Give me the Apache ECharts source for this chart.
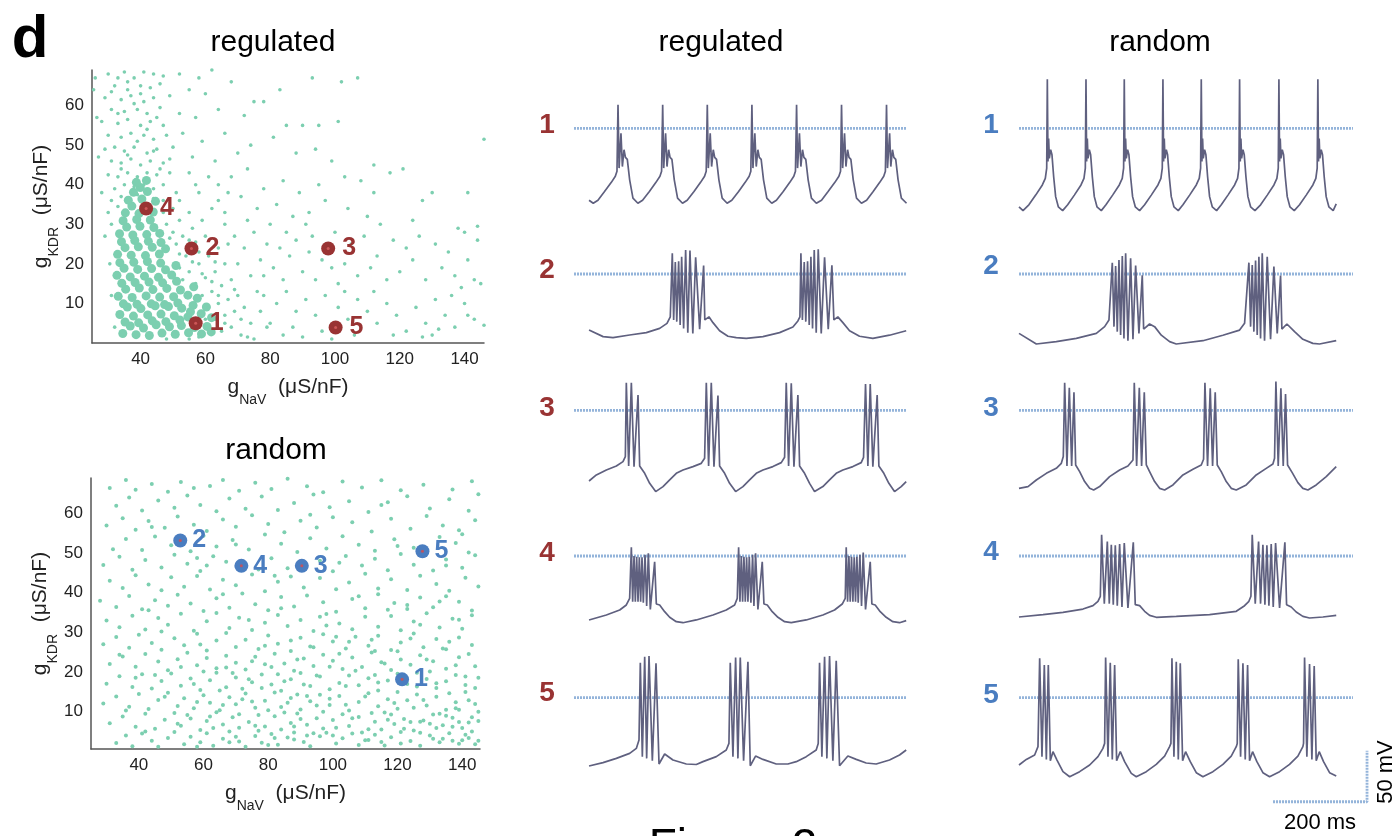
<!DOCTYPE html>
<html><head><meta charset="utf-8">
<script src="https://cdn.jsdelivr.net/npm/echarts@6/dist/echarts.min.js"></script>
<style>html,body{margin:0;padding:0;background:#fff}#c{width:1399px;height:836px}</style>
</head><body><div id="c"></div>
<script>
// ---------------- DATA ----------------
const xTicks = [40, 60, 80, 100, 120, 140];
const yTicks = [10, 20, 30, 40, 50, 60];
const markerNames = ['1', '2', '3', '4', '5'];
const panelTitles = ['regulated', 'random'];
const regMarkers = [[57, 5], [55.7, 23.9], [97.9, 23.9], [41.7, 34], [100.2, 3.9]];
const randMarkers = [[121.4, 18.1], [52.8, 53.2], [90.4, 46.8], [71.7, 46.8], [127.7, 50.5]];

// regulated: dense core of the cloud
const regCore = [
[34.5,2.4],[36.8,4.3],[38.6,2.1],[40.9,3.8],[42.7,1.9],[44.8,4.6],[46.6,2.5],[48.9,4.1],[50.7,2.2],[52.6,4.4],[54.8,2.6],[56.6,3.9],[58.8,2.3],[60.5,4.2],[35.2,5.3],[39.4,5.1],[43.6,5.6],[47.8,5.4],[52.1,5.8],[61.8,2.8],
[33.6,7.2],[35.9,9.1],[37.8,6.8],[40.1,8.7],[42.2,7.1],[44.5,9.4],[46.3,7.3],[48.6,9.2],[50.4,6.9],[52.7,8.8],[54.6,6.6],[56.2,9.5],[58.7,7.4],[60.3,9.1],[34.7,9.9],[38.9,9.8],[43.3,9.9],[47.4,9.7],[51.5,10.1],[55.4,7.9],[61.9,6.4],
[33.1,11.8],[35.4,13.6],[37.4,11.5],[39.6,13.9],[41.7,11.9],[43.8,13.5],[45.9,11.6],[48.1,13.8],[50.2,11.7],[52.3,13.4],[54.6,12.1],[56.4,14.2],[34.2,15.1],[38.3,15.3],[42.6,15.4],[46.8,15.2],[51.1,15.6],[57.5,11.3],
[32.7,17.1],[34.9,18.9],[36.8,16.7],[39.1,18.6],[41.2,16.9],[43.4,18.8],[45.5,16.6],[47.7,18.5],[49.6,17.2],[33.6,20.3],[37.9,20.4],[42.1,20.6],[46.2,20.2],[50.9,19.6],
[32.9,22.4],[35.2,24.1],[37.1,22.2],[39.3,24.3],[41.5,22.1],[43.6,24.2],[45.8,22.5],[47.7,23.8],[34.1,25.6],[38.2,25.9],[42.4,25.7],[46.3,25.4],
[33.5,27.6],[35.7,29.3],[37.6,27.3],[39.8,29.5],[41.9,27.4],[44.1,29.2],[45.9,27.7],[34.6,30.9],[38.8,31.2],[43,31.1],
[35.3,32.9],[37.3,34.6],[39.5,32.7],[41.6,34.5],[43.9,33.1],[36.2,36.1],[40.4,36.4],[44.6,35.8],
[37.8,38.1],[39.9,39.3],[42.1,38.3],[38.7,40.6],[41.8,41.1]];
// regulated: rest of the cloud
const regPoints = [
[30,68],[33,67],[35,68.5],[38,67],[41,68.5],[44,68],[47,67.5],[32,65],[36,64],[40,65],[43,64.5],[46,65.5],
[29,62],[34,61.5],[37,62.5],[41,61],[44,62],[49,62.5],[31,59],[35,58.5],[39,59],[42,58],[46,59.5],
[28,56],[33,55.5],[36,56.5],[40,55],[43,56],[47,55],[30,52.5],[34,52],[37,53],[41,52.5],[44,51.5],[48,52.5],
[29,49],[32,49.5],[35,48.5],[38,49.5],[42,48],[45,49],[50,49.5],[31,46],[34,45.5],[37,46.5],[40,45],[43,46],[47,45.5],
[30,42.5],[33,42],[36,43],[39,42],[42,43],[45,42.5],[49,43],[32,39],[35,40],[38,39.5],[41,40],[44,39],[47,40],
[31,36],[34,37],[44,36.5],[47,36],[51,38],[30,33],[47,33],[50,34],[31,30],[48,30],[52,31],
[26,67],[25.5,64],[26.5,57],[27,47],[28,38],[29,27],[30.5,20],[31,12],[32,4],
[34,44],[36,47.5],[39,51],[42,54],[45,57],[38,60.5],[33,58],[40,63],[36,66],[31,63.5],[46,44],[44,48.5],[49,46.5],[39,37.5],[33,34.5],
[50,28],[53,27],[56,29],[51,25],[54,22],[57,25.5],[60,27],[52,19],[55,18],[58,20],[61,22],[64,24],
[57,15],[60,16.5],[63,18],[66,20],[59,12],[62,13],[65,14.5],[68,16],[61,9],[64,10],[67,11],[70,12],
[63,6],[66,7],[69,8],[72,9],[62,2.5],[65,3],[68,4],[71,2],[74,5],[58,1.5],[55,1],[48,1],
[52,36],[55,33],[59,31],[62,34],[66,30],[69,27],[72,24],[70,20],[74,17],[76,13],[73,1.5],[77,8],[79,4],[67,38],[64,40],[58,38],
[49,26.5],[52,22.5],[55,26],[58,23],[53,16],[56,20.5],[59,17.5],[62,15.5],[64,12],[66,5],[69,13.5],[63,20.5],[67,25],[71,6],[60,6],
[52,68],[58,67],[62,69],[55,64],[60,63],[68,66],[75,61],[83,64],[93,67],[102,66],[107,67],[52,58],[57,57],[64,59],[72,57.5],
[78,61],[85,55],[90,55],[95,55],[101,56],[53,53],[59,51],[66,53],[74,50],[81,52],[88,48],[94,49],[99,46],[112,45],[121,44],
[146,51.5],[56,47],[63,46],[70,48],
[55,43],[61,42],[68,42],[73,44],[78,39],[84,41],[89,38],[95,40],[103,42],[108,41],[112,38],[117,43],[130,38],[141,38],
[57,40],[64,36],[71,37],[76,34],[82,35],[87,32],[92,33],[97,36],[104,34],[110,32],[114,30],[124,31],[127,36],[138,29],
[144,29.5],[66,33],[73,31],[80,30],[85,28],[91,30],
[75,28],[79,25],[83,24],[88,26],[93,27],[96,21],[100,28],[105,25],[109,27],[113,22],[118,26],[122,24],[126,27],[131,25],
[135,23],[140,28],[144,26],[77,21],[81,19],[86,22],[90,18],[94,16],[99,19],[103,20],[107,17],[111,19],[116,16],[120,18],
[124,21],[128,16],[133,19],[137,17],[141,21],[145,15],[143,16],[139,14],[84,16],[78,17],[92,23],[101,15],
[78,12],[82,10],[85,13],[88,8],[91,11],[94,7],[97,12],[101,9],[104,6],[107,11],[110,8],[113,5],[116,10],[119,7],[122,3],
[125,9],[128,5],[131,11],[134,7],[137,4],[140,10],[143,6],[146,4.5],[80,5],[84,2],[87,4],[90,1.5],[96,3],[99,1],[103,13],
[106,2],[112,13],[118,2],[127,1.5],[130,2],[132,3.5],[136,12],[141,7],[75,1]];

// random: whole cloud
const randPoints = [
[36,68.5],[39,66],[44,67.5],[49,65.5],[53,68],[57,66.5],[62,67],[66,68.5],[71,65.8],[76,67.8],[81,66.2],[86,68.8],[92,66.9],[97,65.4],[103,68.1],[109,66.6],[115,68.4],[121,65.9],[128,67.3],[137,66.1],[143,68.2],[31,66.5],
[33,62],[37,64.1],[41,60.8],[46,63.3],[51,61.5],[55,64.6],[59,62.2],[64,60.6],[68,63.8],[73,61.2],[78,64.3],[83,60.9],[88,62.7],[94,64.8],[99,61.6],[105,63.1],[111,60.4],[117,62.9],[123,64.4],[130,61.3],[136,63.6],[142,60.7],[145,64.9],
[30,57],[35,58.8],[39,55.9],[43,58.1],[48,56.4],[52,59.3],[57,57.2],[61,55.6],[66,58.5],[70,56.7],[75,59.6],[80,57.4],[85,55.3],[90,58.2],[95,56.5],[100,59.1],[106,57.8],[112,55.5],[118,58.7],[124,56.2],[129,59.4],[134,57],[139,55.8],[144,58.3],
[32,51],[36,53.6],[41,50.8],[45,54.2],[50,52],[56,50.5],[60,54.4],[64,51.7],[69,53.3],[74,50.9],[79,54.7],[84,52.4],[89,50.3],[93,53.8],[98,51.2],[103,54.3],[108,52.1],[113,50.6],[119,53.5],[125,51.4],[133,54.1],[138,52.6],[142,50.2],[146,53.9],
[29,47],[34,49.1],[38,45.8],[42,48.3],[47,46.4],[51,49.6],[55,47.3],[59,45.5],[63,49.2],[67,47.8],[77,45.9],[81,48.7],[86,46.2],[96,48.1],[100,45.4],[104,49.3],[109,46.9],[113,48.6],[117,45.7],[121,49.8],[125,47.1],[131,45.6],[135,48.4],[140,46.3],[144,49.5],[61,46.9],
[31,43],[35,41.2],[39,44.4],[43,42.1],[47,40.6],[50,43.9],[54,41.5],[58,44.2],[62,40.8],[66,43.3],[70,41.9],[75,44.6],[79,40.4],[83,42.8],[87,44.1],[91,41.3],[96,43.7],[101,40.9],[105,42.6],[110,44.8],[114,41.1],[118,43.4],[123,40.7],[127,44.3],[132,42.2],[136,40.5],[141,43.8],[145,41.6],
[28,38],[33,36.4],[37,39.2],[41,35.8],[45,38.1],[49,36.7],[52,39.5],[56,37.3],[60,35.4],[64,38.6],[68,36.2],[72,39.8],[76,37.1],[80,35.6],[84,38.9],[88,36.5],[92,39.3],[97,37.6],[101,35.2],[106,38.4],[110,36.1],[114,39.6],[119,37.4],[123,35.9],[127,38.8],[131,36.3],[135,39.1],[139,37.7],[143,35.5],[146,38.5],
[30,33],[34,31.3],[38,34.2],[42,30.7],[46,33.6],[49,31.9],[53,34.7],[57,30.4],[61,32.8],[64,34.9],[68,31.1],[71,33.7],[75,30.6],[79,32.4],[83,34.4],[86,31.6],[90,33.1],[94,30.3],[98,34.6],[102,32.2],[106,30.8],[110,33.9],[114,31.4],[118,34.1],[121,30.5],[125,32.7],[129,34.8],[133,31.2],[137,33.4],[140,30.9],[143,34.3],[146,32.1],
[29,27],[33,28.8],[37,26.1],[40,29.4],[44,27.3],[47,25.6],[51,28.5],[54,26.7],[58,29.6],[61,25.4],[64,27.9],[67,29.8],[70,26.3],[73,28.1],[77,25.8],[80,29.2],[83,27.1],[87,25.3],[90,28.6],[93,26.4],[97,29.5],[100,27.7],[104,25.9],[107,28.9],[111,26.6],[114,29.1],[118,25.5],[121,27.4],[125,29.7],[128,26.2],[132,28.3],[135,25.7],[139,28.7],[143,26.8],
[31,22],[35,23.9],[39,21.3],[42,24.5],[46,22.6],[49,20.4],[52,23.2],[55,24.8],[58,21.7],[61,23.5],[64,20.9],[67,24.1],[70,22.3],[73,20.6],[76,23.8],[79,21.9],[82,24.6],[85,22.1],[88,20.3],[91,23.4],[94,21.5],[97,24.3],[100,22.8],[103,20.7],[106,23.6],[109,21.2],[112,24.9],[115,22.4],[118,20.5],[121,23.1],[124,21.8],[127,24.2],[131,22.7],[135,20.8],[139,23.7],[144,21.4],
[30,17],[34,18.9],[38,16.2],[41,19.4],[44,15.8],[47,17.7],[50,19.6],[53,16.5],[56,18.3],[59,15.4],[62,17.9],[64,19.8],[67,16.1],[70,18.6],[72,15.7],[75,17.4],[78,19.3],[81,16.8],[84,15.2],[87,18.1],[90,19.7],[93,16.4],[96,18.8],[99,15.6],[102,17.2],[105,19.1],[108,16.6],[111,18.4],[114,15.3],[117,17.8],[120,19.5],[126,16.3],[129,18.2],[132,15.9],[135,17.6],[138,19.2],[141,16.7],[145,18.5],
[29,12],[33,13.8],[37,11.2],[40,14.4],[43,10.6],[46,12.9],[49,14.7],[52,11.4],[54,13.3],[57,10.8],[60,14.1],[62,12.2],[65,10.3],[68,13.6],[70,11.8],[73,14.5],[76,10.9],[79,12.7],[82,14.8],[84,11.1],[87,13.4],[90,10.5],[93,12.6],[96,14.2],[99,11.6],[102,13.9],[105,10.2],[108,12.4],[111,14.6],[114,11.3],[117,13.1],[120,10.7],[123,12.8],[126,14.3],[129,11.5],[132,13.7],[135,10.4],[138,12.3],[141,14.9],[144,11.9],
[31,7],[35,8.7],[39,6.1],[42,9.4],[45,5.6],[48,7.9],[51,9.6],[53,6.4],[56,8.2],[59,5.3],[61,7.6],[64,9.8],[66,6.7],[69,8.5],[71,5.9],[74,7.3],[77,9.1],[79,6.2],[82,8.8],[84,5.4],[87,7.1],[89,9.5],[92,6.6],[95,8.3],[97,5.7],[100,7.8],[103,9.3],[105,6.3],[108,8.6],[111,5.5],[113,7.4],[116,9.7],[119,6.8],[122,8.1],[125,5.2],[128,7.7],[131,9.2],[134,6.5],[137,8.4],[140,5.8],[142,7.2],[145,9.9],
[33,2],[36,3.9],[38,1.2],[41,4.4],[44,2.6],[46,1.1],[49,3.3],[51,4.8],[54,1.7],[56,3.6],[59,2.2],[61,4.5],[63,1.3],[66,3.1],[68,4.9],[71,2.4],[73,1.1],[76,3.8],[78,2.1],[81,4.3],[83,1.6],[86,3.4],[88,4.7],[91,2.3],[93,1.2],[96,3.7],[98,4.6],[101,1.9],[103,3.2],[106,4.4],[108,1.5],[111,2.8],[113,4.1],[116,1.4],[118,3.5],[121,4.8],[124,2.5],[127,1.3],[130,3.9],[133,2.2],[136,4.5],[139,1.8],[142,3.3],[145,2.6],
[132,5.8],[134,3.1],[137,2.6],[139,7.3],[141,4.1],[143,8.5],[138,10.8],[144,1.7],[135,8.9],[130,6.9],[127,4.6],[124,7.3],[121,1.9],[118,9.2],[115,5.4],[88,6.2],[85,9.7],[92,3.9],[95,11.5],[80,1.5],
[77,5.1],[70,3.6],[66,11.6],[62,8.7],[58,12.4],[89,14.3],[99,21.3],[105,27.6],[113,19.2],[120,14.9],[124,28.4],[130,20.1],[136,27.6],[142,24.5],[110,2.7],[101,5.9],[74,18.1],[83,19.4],[94,26.2],[67,21.1],
[34,24.3],[45,19.2],[48,13.7],[55,9.1],[57,16.9],[60,20.1],[63,5.8],[65,15.3],[68,2.2],[69,19.7],[71,9.3],[72,13.1],[75,22.7],[76,6.4],[78,15.9],[80,10.3],[81,21.2],[82,3.3],[85,17.6],[86,12.2],
[87,27.9],[88,2.9],[90,8.1],[91,16.8],[92,13.9],[94,4.5],[95,19.1],[97,9.9],[98,31.7],[99,13.2],[100,3.9],[102,24.6],[104,11.7],[104,16.4],[106,8.3],[107,20.3],[109,4.7],[110,13.8],[112,9.6],[112,28.1],
[114,17.3],[115,2.3],[116,22.1],[117,7.9],[119,12.1],[120,25.2],[122,5.6],[123,16.9],[125,10.9],[126,19.8],[127,7.4],[128,12.9],[129,23.1],[131,3.1],[132,17.1],[133,9.4],[134,25.9],[136,14.6],[137,6.1],[138,21.7],
[139,10.4],[140,2.7],[141,18.8],[142,12.8],[143,4.9],[144,15.9],[145,7.6],[146,20.6],[139,33.2],[133,37.8],[127,31.9],[117,35.7],[108,39.1],[96,33.9],[84,36.1],[74,33.1],[66,39.6],[59,26.9],[53,21.2],[47,30.2],
[43,35.6],[39,18.5],[36,10.2],[42,4.9],[52,6.9],[58,1.1],[75,12.5],[79,26.6],[89,23.1],[101,28.9],[113,25.3],[123,36.9],[135,46.9],[140,54.8],[120,51.8],[102,47.6],[82,44.3],[70,52.2],[58,48.8],[44,56.6],[93,59.7],[115,62.2]];

// voltage traces: [time ms, membrane potential mV] (0 mV = dotted line)
const regTrace1 = [[0,-70.5],[9,-73.5],
[19,-70.5],[33,-62],[47.5,-53],[56,-47],[59.5,-42],[61.7,23],[64,-39],[68,-5],[71,-37.5],[74.5,-21],[77.5,-28.5],[81.5,-30.5],[86.5,-50.5],[93.5,-68.5],[104,-73.5],
[114,-70.5],[128.5,-62],[142.5,-53],[151,-47],[154.5,-42],[156.8,23],[159,-39],[163,-5],[166,-37.5],[169.5,-21],[172.5,-28.5],[176.5,-30.5],[181.5,-50.5],[188.5,-68.5],[199,-73.5],
[209,-70.5],[223.5,-62],[237.5,-53],[246,-47],[249.5,-42],[251.8,23],[254,-39],[258,-5],[261,-37.5],[264.5,-21],[267.5,-28.5],[271.5,-30.5],[276.5,-50.5],[283.5,-68.5],[294,-73.5],
[304,-70.5],[318.5,-62],[332.5,-53],[341,-47],[344.5,-42],[346.8,23],[349,-39],[353,-5],[356,-37.5],[359.5,-21],[362.5,-28.5],[366.5,-30.5],[371.5,-50.5],[378.5,-68.5],[389,-73.5],
[399,-70.5],[413.5,-62],[427.5,-53],[436,-47],[439.5,-42],[441.9,23],[444,-39],[448,-5],[451,-37.5],[454.5,-21],[457.5,-28.5],[461.5,-30.5],[466.5,-50.5],[473.5,-68.5],[484,-73.5],
[495,-70.5],[509,-62],[523.5,-53],[532,-47],[535.5,-42],[537.6,23],[540,-39],[544,-5],[547,-37.5],[550.5,-21],[553.5,-28.5],[557.5,-30.5],[562.5,-50.5],[569.5,-68.5],[580,-73.5],
[591,-70.5],[605,-62],[619,-53],[627.5,-47],[631,-42],[633.4,23],[635.5,-39],[640,-5],[642.5,-37.5],[646,-21],[649,-28.5],[653,-30.5],[658,-50.5],[665,-68.5],[676,-73.5]];
const regTrace2 = [[0,-55],[30,-61.4],[51,-62.4],[86.5,-59.8],[122,-57.5],[150.4,-53.3],[166,-48.4],[173,-42],
[177.3,20.3],[180.2,-45],[183.7,11.8],[186.8,-46.7],[190.8,12.4],[194,-50],[197.2,17],[201.4,-53.3],[205.7,23.5],[210.3,-57.5],[214.9,22.9],[221,-58.2],[227,16.3],[235.5,-54.2],[244,8.2],
[246.5,-45],[255.3,-42],[263.9,-47.7],[278,-55.6],[295.8,-61],[313.5,-62.4],[334.8,-63.1],[370.3,-61.4],[405.7,-57.5],[434.1,-52],[444.7,-46],[449,-42],
[451.1,20.3],[454.3,-45],[458.2,11.8],[461.5,-46.7],[465.3,12.4],[468.8,-50],[472.4,17],[475.9,-53.3],[479.5,23.5],[483.7,-57.5],[488,24.2],[494.4,-58.2],[501.5,16.3],[509.3,-54.2],[517.1,8.5],
[521.3,-45],[529.8,-42],[540.5,-47.7],[554.7,-55.6],[575.9,-61],[604.3,-63.1],[639.8,-60],[675.3,-55.6]];
const regTrace3 = [[0,-69.3],[15.6,-63.4],[36.9,-58.5],[58.2,-54.6],[72.3,-50.3],[77.3,-45.4],[79.4,27.1],[84.4,-54.6],[90.1,27.1],[95.8,-55.2],[104.3,15],[107.8,-54.6],
[118.5,-61.8],[129.1,-71.6],[141.9,-79.7],[157.5,-74.8],[171.7,-68.3],[185.8,-61.8],[200,-58.5],[221.3,-55.2],[239,-52],[246.1,-47.1],[249.7,27.1],[254.6,-54.6],[260.3,27.1],[266,-55.2],[274.5,14.4],[278,-54.6],
[288.7,-61.8],[299.3,-71.6],[312.1,-79.7],[327.7,-74.8],[341.9,-68.3],[356.1,-61.8],[370.3,-58.5],[391.5,-55.2],[409.3,-51.3],[416.4,-46.1],[419.9,27.1],[424.9,-54.6],[430.6,26.5],[436.3,-55.2],[444.7,15],[448.3,-54.6],
[458.9,-61.8],[469.6,-71.6],[480.2,-79.7],[497.9,-74.8],[512.1,-68.3],[526.3,-61.8],[540.5,-58.5],[561.8,-55.2],[579.5,-51.3],[584.5,-46.1],[588.7,25.8],[593.7,-54.6],[598.7,25.8],[604.3,-55.2],[613.5,15],[617.1,-54.6],
[627.7,-61.8],[638.4,-71.6],[650.4,-79.7],[664.6,-74.8],[675.3,-69.9]];
const regTrace4 = [[0,-62.7],[36.9,-57.8],[65.3,-52.9],[79.4,-48],[86.5,-41.5],
[90.1,8.5],[92.9,-44.8],[95.8,0],[98.6,-44.8],[101.4,-0.7],[104.3,-44.8],[107.1,-1.3],[109.9,-44.8],[112.8,-1.3],[115.6,-45.8],[119.2,1.3],[122.7,-49],[126.3,2.6],[130.5,-52.3],[139.7,-5.6],
[143.3,-47.1],[150.4,-48],[161,-54.6],[171.7,-60.1],[185.8,-64.4],[200,-65.4],[228.4,-62.7],[263.9,-57.8],[292.2,-52.9],[310,-48],[315.6,-41.5],
[318.5,8.5],[321.3,-44.8],[324.2,0],[327,-44.8],[329.8,-0.7],[332.7,-44.8],[335.5,-1.3],[338.3,-44.8],[341.2,-0.7],[344.7,-45.8],[348.3,1.3],[351.1,-49],[354.6,2.6],[359.6,-52.3],[368.8,-5.6],
[372.4,-47.1],[379.5,-48],[390.1,-54.6],[402.2,-60.1],[416.4,-64.4],[430.5,-65.4],[462.5,-62.7],[497.9,-57.8],[522.7,-52.9],[539.1,-47.1],[545.5,-41.5],
[547.6,8.5],[550.5,-44.8],[553.3,0],[556.1,-44.8],[558.9,-0.7],[561.8,-44.8],[564.6,-1.3],[567.4,-44.8],[570.3,-0.7],[573.1,-45.8],[576.7,1.3],[580.2,-49],[583.8,3.3],[588.7,-52.3],[598.7,-5.6],
[602.2,-47.1],[609.3,-48],[620,-54.6],[632.7,-60.1],[646.9,-64.4],[661.1,-65.4],[675.3,-63.4]];
const regTrace5 = [[0,-67],[29.8,-63.7],[58.2,-59.5],[86.5,-54.6],[100.7,-49.7],[106.4,-41.5],
[109.2,34.3],[113.5,-57.8],[118.5,40.2],[122.7,-59.5],[127.7,40.8],[134.8,-61.8],[142.6,33.7],[149,-65],[161,-55.2],[178.7,-61.1],[207.1,-65],[228.4,-65.5],[242.6,-62.7],[271,-57.8],[292.2,-51.3],[297.9,-44.8],
[300.7,34.3],[306.4,-57.8],[312.1,39.5],[317,-59.5],[322,39.5],[329.1,-61.8],[338.3,35.3],[343.3,-66.7],[354.6,-57.2],[370.3,-60.5],[398.6,-65],[423.4,-65],[441.2,-62.7],[462.5,-57.8],[483.7,-51.3],[488,-44.8],
[490.8,34.3],[495.8,-57.8],[501.5,40.2],[506.4,-59.5],[512.1,40.8],[519.2,-61.8],[526.3,36.3],[533.4,-66.7],[551.1,-57.2],[568.9,-60.5],[590.1,-64],[611.4,-65],[639.8,-61.1],[661.1,-56.2],[675.3,-51.3]];

const randTrace1 = [[0,-77],[8.5,-80.7],
[21,-75],[35.5,-65.5],[49.7,-55.5],[56,-49],[59,-39],[60.3,48],[61.7,-32.5],[63.1,-10],[64.6,-29.5],[67.4,-21],[70.2,-26],[73.8,-47.5],[78,-67],[83.7,-77],[92.9,-80.7],
[103.6,-75],[117.8,-65.5],[132,-55.5],[138.3,-49],[141.2,-39],[142.6,48],[144,-32.5],[145.4,-10],[146.9,-29.5],[149.7,-21],[152.5,-26],[156.1,-47.5],[160.3,-67],[166,-77],[175.2,-80.7],
[185.1,-75],[199.3,-65.5],[213.5,-55.5],[219.8,-49],[222.7,-39],[224.1,48],[225.5,-32.5],[226.9,-10],[228.4,-29.5],[231.2,-21],[234,-26],[237.6,-47.5],[241.8,-67],[247.5,-77],[256.7,-80.7],
[267.4,-75],[281.6,-65.5],[295.8,-55.5],[302.1,-49],[305,-39],[306.4,48],[307.8,-32.5],[309.2,-10],[310.7,-29.5],[313.5,-21],[316.3,-26],[319.9,-47.5],[324.1,-67],[329.8,-77],[339,-80.7],
[349,-75],[363.2,-65.5],[377.4,-55.5],[383.7,-49],[386.6,-39],[388,48],[389.4,-32.5],[390.8,-10],[392.3,-29.5],[395.1,-21],[397.9,-26],[401.5,-47.5],[405.7,-67],[411.4,-77],[420.6,-80.7],
[430.6,-75],[444.8,-65.5],[459,-55.5],[465.3,-49],[468.2,-39],[469.6,48],[471,-32.5],[472.4,-10],[473.9,-29.5],[476.7,-21],[479.5,-26],[483.1,-47.5],[487.3,-67],[493,-77],[502.2,-80.7],
[514.3,-75],[528.5,-65.5],[542.7,-55.5],[549,-49],[551.9,-39],[553.3,48],[554.7,-32.5],[556.1,-10],[557.6,-29.5],[560.4,-21],[563.2,-26],[566.8,-47.5],[571,-67],[576.7,-77],[585.9,-80.7],
[597.2,-75],[611.4,-65.5],[625.6,-55.5],[631.9,-49],[634.8,-39],[636.2,48],[637.6,-32.5],[639,-10],[640.5,-29.5],[643.3,-21],[646.1,-26],[649.7,-47.5],[653.9,-67],[659.6,-77],[668.8,-80.7],[675.3,-74]];
const randTrace2 = [[0,-58.2],[36.9,-68.6],[79.4,-66.3],[122,-63.1],[164.6,-58.2],[182.3,-51.6],[191.5,-45.1],
[198.6,11.1],[202.2,-51.6],[205.7,7.8],[209.2,-56.5],[212.8,13.7],[216.3,-59.8],[219.9,17.6],[223.4,-63.1],[227,20.3],[231.9,-65.4],[237.6,15.4],[242.6,-64],[248.3,8.2],[255.3,-58.2],[262.4,-1.3],
[265.3,-54],[278,-49],[288.7,-51.6],[302.9,-60],[320.6,-66.3],[334.8,-68.6],[391.5,-65.4],[434.1,-60],[469.6,-55],[480.2,-48.4],
[489.4,11.1],[493,-51.6],[496.5,8.8],[500,-56.5],[503.6,13.1],[507.1,-59.8],[510.7,17],[514.2,-63.1],[517.8,20.3],[522.7,-65.4],[528.4,17],[535.5,-64],[542.6,7.2],[549.7,-58.2],[556.8,-1.6],
[559.6,-54],[570.3,-49],[586.6,-56.5],[604.3,-64],[625.6,-68],[639.8,-68.6],[675.3,-65.4]];
const randTrace3 = [[0,-76.5],[19.2,-74.8],[36.9,-68.3],[58.2,-61.8],[79.4,-56.9],[90.1,-52],[94.3,-45.4],[97.2,27.1],[102.1,-54.6],[107.1,22.2],[112.1,-54.6],[117,17.6],[120.6,-53.6],
[129.1,-60.1],[139.7,-69.9],[150.4,-76.5],[158.9,-78.1],[171.7,-74.8],[192.9,-65],[214.2,-58.5],[231.9,-54.6],[242.6,-48.7],[245.4,27.1],[250.4,-54.6],[256.1,22.2],[261,-54.6],[266.7,17.6],[271,-53.6],
[278,-60.1],[288.7,-69.9],[299.3,-76.5],[310,-78.1],[327.7,-73.2],[349,-63.4],[370.3,-57.8],[388,-53.6],[392.9,-48],[395.8,27.1],[401.4,-54.6],[407.1,21.6],[412.1,-54.6],[417.7,17.6],[422,-53.6],
[430.5,-60.1],[441.2,-69.9],[451.8,-76.5],[462.5,-78.1],[483.7,-73.2],[505,-63.4],[526.3,-56.9],[540.5,-52.6],[544,-47.1],[546.9,28.1],[551.8,-54.6],[557.5,21.6],[562.5,-54.6],[567.4,16],[571.7,-53.6],
[581.6,-61.1],[593.7,-70.9],[604.3,-76.5],[615,-78.1],[632.7,-73.2],[654,-65],[675.3,-55.2]];
const randTrace4 = [[0,-59.8],[51.1,-57.5],[93.6,-55.2],[136.2,-52],[157.5,-48.7],[168.1,-44.4],[173.1,-39.5],
[175.9,20.9],[181.6,-46.7],[188,14.1],[192.2,-46.7],[196.5,11.1],[200.7,-47.7],[205,10.5],[209.2,-48.7],[214.2,11.8],[219.2,-50],[224.1,12.7],[231.9,-51],[243.3,13.4],
[247.5,-47.7],[256.8,-48.7],[267.4,-54.2],[278,-58.2],[292.2,-60.1],[334.8,-59.2],[405.7,-57.5],[462.5,-54.2],[480.2,-48.7],[489.4,-44.4],[493.7,-39.5],
[496.5,20.9],[502.9,-46.7],[510,14.1],[514.2,-46.7],[519.2,11.1],[523.5,-47.7],[527.7,10.5],[532,-48.7],[536.9,11.8],[541.2,-50],[546.2,12.7],[554.7,-51],[566,13.4],
[569.6,-47.7],[579.5,-50],[590.1,-54.9],[604.3,-59.2],[618.5,-60.8],[646.9,-59.8],[675.3,-58.2]];
const randTrace5 = [[0,-66],[15.6,-60.5],[33.3,-56.2],[40.4,-48],[44,38.6],[48.9,-57.8],[53.9,32],[58.2,-60.5],[62.4,32],[66.7,-61.8],[72.3,-52.9],[80.9,-61.1],[93.6,-72.5],[107.8,-77.5],[129.1,-72.5],[150.4,-66],[168.1,-57.8],[178.7,-49.7],[182.3,-44.8],
[184.4,39.5],[189.4,-57.8],[194.3,34.3],[198.6,-60.5],[203.6,32],[207.8,-61.8],[215.6,-52.9],[224.8,-62.7],[239,-74.2],[249.7,-77.5],[271,-72.5],[292.2,-65.4],[310,-57.2],[320.6,-48],[323.4,-44.8],
[325.6,38.6],[329.8,-57.8],[334.8,35.3],[339.1,-60.5],[343.3,33.7],[348.3,-61.8],[354.6,-52.9],[364.6,-62.7],[377.4,-73.5],[391.5,-77.5],[412.8,-72.5],[434.1,-65.4],[451.8,-57.2],[462.5,-48],[464.6,-44.8],
[466.7,37.6],[471.7,-57.8],[476.7,33.7],[481.6,-60.5],[486.6,32],[490.8,-61.8],[497.2,-52.9],[506.4,-62.7],[519.2,-73.5],[533.4,-77.5],[554.7,-72.5],[575.9,-65.4],[593.7,-57.2],[604.3,-48],[605.7,-44.8],
[607.9,39.5],[612.8,-57.8],[618.5,33],[623.5,-60.5],[628.4,31],[632.7,-61.8],[639.1,-52.9],[648.3,-62.7],[661.1,-73.5],[675.3,-76.8]];

const regTraces = [regTrace1, regTrace2, regTrace3, regTrace4, regTrace5];
const randTraces = [randTrace1, randTrace2, randTrace3, randTrace4, randTrace5];
const thresholdMv = 0;
const scaleBarMs = 200;
const scaleBarMv = 50;

// ---------------- CHART ----------------
const FONT = '"Liberation Sans", Arial, sans-serif';
const TEAL = '#7ccfb0';
const RED = '#993333';
const BLUE = '#4a7dc0';
const TRACE = '#5f607f';
const DOT = '#88acd6';

const grids = [], xAxes = [], yAxes = [], series = [];
const richName = {
  g: { fontSize: 21, fontFamily: FONT, color: '#222', lineHeight: 28, verticalAlign: 'middle' },
  s: { fontSize: 14, fontFamily: FONT, color: '#222', lineHeight: 28, verticalAlign: 'bottom', padding: [0, 0, -6, 0] },
  u: { fontSize: 21, fontFamily: FONT, color: '#222', lineHeight: 28, verticalAlign: 'middle' }
};

function scatterPanel(left, top, width, height, xMin, xMax, yMin, yMax) {
  const gi = grids.length;
  grids.push({ left, top, width, height });
  xAxes.push({
    type: 'value', gridIndex: gi, min: xMin, max: xMax,
    splitLine: { show: false }, axisTick: { show: false },
    axisLine: { show: true, onZero: false, lineStyle: { color: '#555', width: 1.5 } },
    axisLabel: { customValues: xTicks, color: '#222', fontSize: 17, fontFamily: FONT, margin: 8 },
    name: '{g|g}{s|NaV}{u|  (μS/nF)}', nameLocation: 'middle', nameGap: 30,
    nameTextStyle: { fontFamily: FONT, color: '#222', rich: richName }
  });
  yAxes.push({
    type: 'value', gridIndex: gi, min: yMin, max: yMax,
    splitLine: { show: false }, axisTick: { show: false },
    axisLine: { show: true, onZero: false, lineStyle: { color: '#555', width: 1.5 } },
    axisLabel: { customValues: yTicks, color: '#222', fontSize: 17, fontFamily: FONT, margin: 8 },
    name: '{g|g}{s|KDR}{u|  (μS/nF)}', nameLocation: 'middle', nameGap: 31, nameRotate: 90,
    nameTextStyle: { fontFamily: FONT, color: '#222', rich: richName }
  });
  return gi;
}

const g0 = scatterPanel(92, 70, 392, 273, 25, 146, 0, 69);
const g1 = scatterPanel(91, 478, 389, 271, 25.2, 145.5, 0.5, 69);

function addScatter(gi, data, size) {
  series.push({ type: 'scatter', xAxisIndex: gi, yAxisIndex: gi, data, symbolSize: size,
    itemStyle: { color: TEAL, opacity: 1 }, silent: true, z: 2 });
}
addScatter(g0, regCore, 9);
addScatter(g0, regPoints, 3.6);
addScatter(g1, randPoints, 4);

function addMarkers(gi, data, color, centre, dist) {
  series.push({ type: 'scatter', xAxisIndex: gi, yAxisIndex: gi, data, symbolSize: 14,
    itemStyle: { color, opacity: 1 }, z: 5,
    label: { show: true, position: 'right', distance: dist, formatter: p => markerNames[p.dataIndex],
      color, fontSize: 25, fontWeight: 'bold', fontFamily: FONT } });
  series.push({ type: 'scatter', xAxisIndex: gi, yAxisIndex: gi, data, symbolSize: 3,
    itemStyle: { color: centre }, z: 6 });
}
addMarkers(g0, regMarkers, RED, '#d86060', 7);
addMarkers(g1, randMarkers, BLUE, '#d94a4a', 5);

// trace panels
const dottedRowsY = [128.3, 274, 410.3, 556, 697.7];
const PX_PER_MV = 1.02;
const PX_PER_MS = 0.47;
const VMIN = -90, VMAX = 50;
const columns = [
  { left: 574, width: 333, tMin: -32, tMax: 677, traces: regTraces },
  { left: 1019, width: 334, tMin: 0, tMax: 711, traces: randTraces }
];
columns.forEach(col => {
  col.traces.forEach((tr, i) => {
    const gi = grids.length;
    grids.push({ left: col.left, width: col.width, top: dottedRowsY[i] - VMAX * PX_PER_MV, height: (VMAX - VMIN) * PX_PER_MV });
    xAxes.push({ type: 'value', gridIndex: gi, min: col.tMin, max: col.tMax, show: false });
    yAxes.push({ type: 'value', gridIndex: gi, min: VMIN, max: VMAX, show: false });
    series.push({ type: 'line', xAxisIndex: gi, yAxisIndex: gi, showSymbol: false, silent: true,
      data: [[col.tMin, thresholdMv], [col.tMax, thresholdMv]],
      lineStyle: { color: DOT, width: 2.8, type: [2, 1], opacity: 0.9 }, z: 1 });
    series.push({ type: 'line', xAxisIndex: gi, yAxisIndex: gi, showSymbol: false, silent: true,
      data: tr, lineStyle: { color: TRACE, width: 1.7 }, z: 3 });
  });
});
// scale bar (200 ms, 50 mV): own grid sharing the scale of the last random panel
{
  const gi = grids.length;
  const sbMin = -110, sbTMax = 770;
  grids.push({ left: 1019, width: sbTMax * PX_PER_MS, top: dottedRowsY[4] - VMAX * PX_PER_MV, height: (VMAX - sbMin) * PX_PER_MV });
  xAxes.push({ type: 'value', gridIndex: gi, min: 0, max: sbTMax, show: false });
  yAxes.push({ type: 'value', gridIndex: gi, min: sbMin, max: VMAX, show: false });
  const barT = 740.5, barV = -102;
  series.push({ type: 'line', xAxisIndex: gi, yAxisIndex: gi, showSymbol: false, silent: true,
    data: [[barT - scaleBarMs, barV], [barT, barV], [barT, barV + scaleBarMv]],
    lineStyle: { color: DOT, width: 2.8, type: [2, 1], opacity: 0.9 }, z: 1 });
}

function txt(text, x, y, size, color, weight, rot) {
  return { type: 'text', x, y, rotation: rot || 0, silent: true,
    style: { text, fontSize: size, fontFamily: FONT, fontWeight: weight || 'normal', fill: color,
      align: 'center', verticalAlign: 'middle', textAlign: 'center', textVerticalAlign: 'middle' } };
}
const graphics = [
  txt('d', 30, 40, 60, '#000', 'bold'),
  txt(panelTitles[0], 273, 43, 30, '#000'),
  txt(panelTitles[1], 276, 451, 30, '#000'),
  txt(panelTitles[0], 721, 43, 30, '#000'),
  txt(panelTitles[1], 1160, 43, 30, '#000'),
  txt('200 ms', 1320, 823, 22, '#000'),
  txt('50 mV', 1386, 772, 22, '#000', 'normal', Math.PI / 2),
  txt('Figure 2', 733, 848, 46, '#000')
];
const regLabelY = [125, 270, 408, 553, 693];
const randLabelY = [125, 266, 408, 552, 695];
markerNames.forEach((n, i) => {
  graphics.push(txt(n, 547, regLabelY[i], 28, RED, 'bold'));
  graphics.push(txt(n, 991, randLabelY[i], 28, BLUE, 'bold'));
});

const chart = echarts.init(document.getElementById('c'));
chart.setOption({
  animation: false,
  backgroundColor: '#fff',
  grid: grids, xAxis: xAxes, yAxis: yAxes, series,
  graphic: { elements: graphics }
});
</script></body></html>
